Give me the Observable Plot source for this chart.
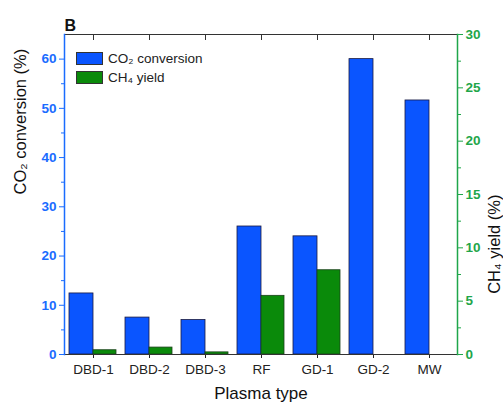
<!DOCTYPE html>
<html>
<head>
<meta charset="utf-8">
<script src="https://cdn.jsdelivr.net/npm/d3@7"></script>
<script src="https://cdn.jsdelivr.net/npm/@observablehq/plot@0.6"></script>
<style>
  body { margin: 0; background: #fff; font-family: "Liberation Sans", Arial, sans-serif; }
  #wrap { position: relative; width: 503px; height: 403px; overflow: hidden; }
  .legend { position: absolute; left: 76px; top: 49px; font-size: 13.5px; color: #222; }
  .legend .row { display: flex; align-items: center; height: 19px; }
  .legend .sw { width: 27px; height: 13px; border: 1px solid #333; box-sizing: border-box; margin-right: 5px; }
</style>
</head>
<body>
<div id="wrap"></div>
<script>
const categories = ["DBD-1", "DBD-2", "DBD-3", "RF", "GD-1", "GD-2", "MW"];
const co2Conversion = [12.4, 7.5, 7.0, 26.0, 24.0, 60.0, 51.6];
const ch4Yield = [0.4, 0.65, 0.2, 5.5, 7.9, 0, 0];
const leftTicks = [0, 10, 20, 30, 40, 50, 60];
const rightTicks = [0, 5, 10, 15, 20, 25, 30];

const leftMax = 65, rightMax = 30;
const K = leftMax / rightMax;
const blue = "#0a55ff", green = "#0a8a0a";
const blueText = "#1a6cff", greenText = "#1fa64a";

const co2 = categories.map((c, i) => ({cat: c, v: co2Conversion[i]}));
const ch4 = categories.map((c, i) => ({cat: c, v: ch4Yield[i] * K}));

const chart = Plot.plot({
  width: 503,
  height: 403,
  marginLeft: 64,
  marginRight: 46,
  marginTop: 34,
  marginBottom: 49,
  style: {fontFamily: "Liberation Sans, Arial, sans-serif", fontSize: "13px", background: "white"},
  x: {domain: categories, padding: 0, label: null},
  y: {domain: [0, leftMax], label: null},
  marks: [
    Plot.barY(co2, {x: "cat", y: "v", fill: blue, stroke: "#1a1a40", strokeWidth: 0.8, insetLeft: 4, insetRight: 28}),
    Plot.barY(ch4, {x: "cat", y: "v", fill: green, stroke: "#1a401a", strokeWidth: 0.8, insetLeft: 28, insetRight: 5}),
    // left axis
    Plot.axisY({ticks: leftTicks, tickSize: 5, color: blueText, fontWeight: "bold", fontSize: 13.5, tickPadding: 3, label: null}),
    Plot.axisY({ticks: d3.range(5, 65, 10), tickSize: 3, color: blueText, tickFormat: () => "", label: null}),
    // right axis
    Plot.axisY({anchor: "right", ticks: rightTicks.map(v => v * K), tickFormat: d => Math.round(d / K), tickSize: 5, color: greenText, fontWeight: "bold", fontSize: 13.5, tickPadding: 3, label: null}),
    Plot.axisY({anchor: "right", ticks: d3.range(2.5, 30, 5).map(v => v * K), tickFormat: () => "", tickSize: 3, color: greenText, label: null}),
    // bottom axis
    Plot.axisX({anchor: "bottom", tickSize: 4, tickPadding: 6, fontSize: 13.5, color: "#222", label: null}),
    Plot.axisX({anchor: "top", tickSize: -5, tickFormat: () => "", color: "#333", label: null}),
    // frame sides
    Plot.frame({anchor: "top", stroke: "#333"}),
    Plot.frame({anchor: "bottom", stroke: "#333"}),
    Plot.frame({anchor: "left", stroke: blueText, strokeWidth: 1.5}),
    Plot.frame({anchor: "right", stroke: greenText, strokeWidth: 1.5}),
    // titles
    Plot.text(["B"], {frameAnchor: "top-left", dy: -15, dx: 0, textAnchor: "start", fontWeight: "bold", fontSize: 16, fill: "#111"}),
    Plot.text(["CO₂ conversion (%)"], {frameAnchor: "left", rotate: -90, dx: -44, fontSize: 16.5, fill: "#111"}),
    Plot.text(["CH₄ yield (%)"], {frameAnchor: "right", rotate: -90, dx: 37, fontSize: 16.5, fill: "#111"}),
    Plot.text(["Plasma type"], {frameAnchor: "bottom", dy: 44, fontSize: 17, fill: "#111"})
  ]
});

const wrap = document.getElementById("wrap");
wrap.appendChild(chart);

const legendItems = [
  {label: "CO₂ conversion", color: blue},
  {label: "CH₄ yield", color: green}
];
const legend = document.createElement("div");
legend.className = "legend";
for (const it of legendItems) {
  const row = document.createElement("div");
  row.className = "row";
  const sw = document.createElement("div");
  sw.className = "sw";
  sw.style.background = it.color;
  const t = document.createElement("span");
  t.textContent = it.label;
  row.appendChild(sw);
  row.appendChild(t);
  legend.appendChild(row);
}
wrap.appendChild(legend);
</script>
</body>
</html>
